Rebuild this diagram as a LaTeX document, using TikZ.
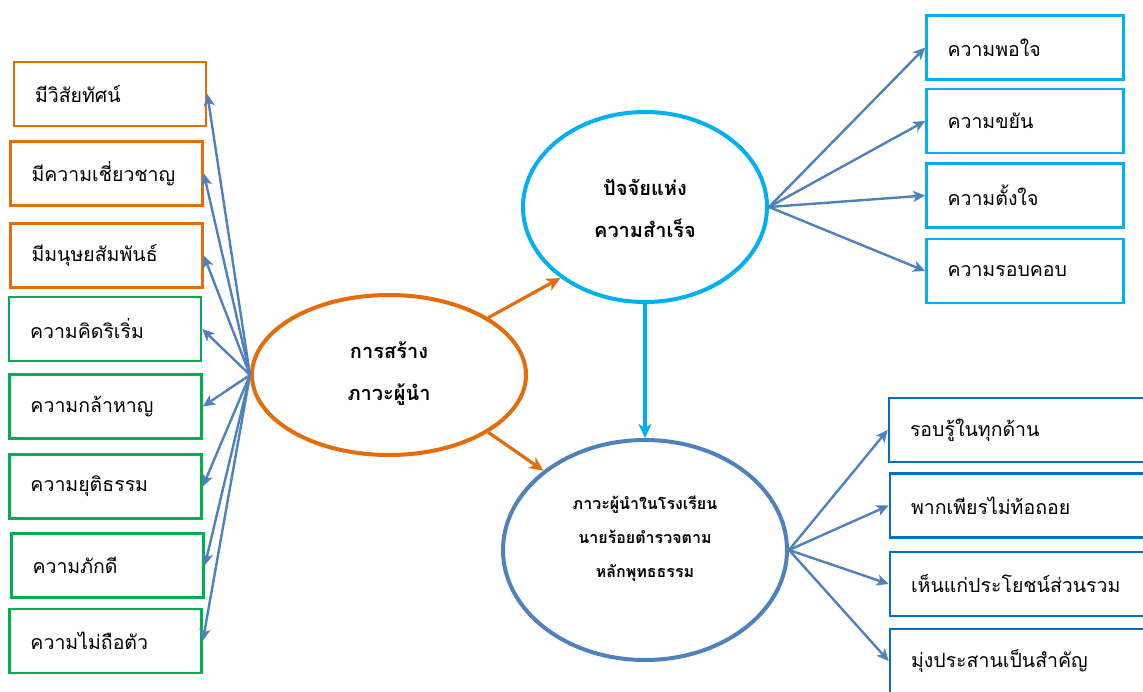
\documentclass[tikz,border=0pt]{standalone}
\usepackage{fontspec}
\setmainfont[Script=Thai]{Loma}
\usetikzlibrary{shapes.geometric,arrows.meta}
\definecolor{orng}{RGB}{228,108,10}
\definecolor{grn}{RGB}{0,176,80}
\definecolor{sky}{RGB}{0,176,240}
\definecolor{navy}{RGB}{0,112,192}
\definecolor{steel}{RGB}{79,129,189}
\tikzset{
  box/.style={draw, line width=2.6pt, rectangle, minimum height=64pt,
    inner xsep=21pt, inner ysep=0pt, align=left,
    font=\fontsize{19.5}{22}\selectfont},
  lbox/.style={box, text width=150pt},
  rbox/.style={box, text width=155pt},
  bbox/.style={box, text width=220pt},
  oval/.style={draw, ellipse, line width=4pt, inner sep=0pt},
  otext/.style={align=center, font=\fontsize{20}{42}\selectfont\bfseries},
  link/.style={draw=steel, line width=2.4pt, -{Stealth[length=12pt,width=11pt,inset=3pt]}},
  thick link/.style={line width=3.2pt, -{Stealth[length=14pt,width=13pt,inset=4pt]}}
}
\begin{document}
\begin{tikzpicture}[x=1pt,y=-1pt]
\useasboundingbox (0,0) rectangle (1143,691);
\clip (0,0) rectangle (1143,691);

% central ellipses
\node[oval, draw=orng, minimum width=274pt, minimum height=160pt] (lead) at (389,375) {};
\node[otext] (leadtext) at (389,374) {การสร้าง\\ภาวะผู้นำ};
\node[oval, draw=sky, minimum width=244pt, minimum height=190pt] (succ) at (645,207) {};
\node[otext] (succtext) at (645,208) {ปัจจัยแห่ง\\ความสำเร็จ};
\node[oval, draw=steel, minimum width=284pt, minimum height=220pt] (school) at (645,550) {};
\node[align=center, font=\fontsize{16}{34}\selectfont\bfseries] (schooltext) at (645,539)
  {ภาวะผู้นำในโรงเรียน\\นายร้อยตำรวจตาม\\หลักพุทธธรรม};

% left-hand qualities
\node[lbox, draw=orng] (l1) at (110,94) {มีวิสัยทัศน์};
\node[lbox, draw=orng] (l2) at (106.5,173.5) {มีความเชี่ยวชาญ};
\node[lbox, draw=orng] (l3) at (106.5,255.5) {มีมนุษยสัมพันธ์};
\node[lbox, draw=grn] (l4) at (105,329) {ความคิดริเริ่ม};
\node[lbox, draw=grn] (l5) at (105.5,406.5) {ความกล้าหาญ};
\node[lbox, draw=grn] (l6) at (105.5,486.5) {ความยุติธรรม};
\node[lbox, draw=grn] (l7) at (107.5,565.5) {ความภักดี};
\node[lbox, draw=grn] (l8) at (105.5,641) {ความไม่ถือตัว};

% success factors
\node[rbox, draw=sky] (r1) at (1025,47.5) {ความพอใจ};
\node[rbox, draw=sky] (r2) at (1025,121) {ความขยัน};
\node[rbox, draw=sky] (r3) at (1025,195.5) {ความตั้งใจ};
\node[rbox, draw=sky] (r4) at (1025,271) {ความรอบคอบ};

% leadership outcomes
\node[bbox, draw=navy] (b1) at (1020,430) {รอบรู้ในทุกด้าน};
\node[bbox, draw=navy] (b2) at (1021,505.5) {พากเพียรไม่ท้อถอย};
\node[bbox, draw=navy] (b3) at (1021,584) {เห็นแก่ประโยชน์ส่วนรวม};
\node[bbox, draw=navy] (b4) at (1021,661) {มุ่งประสานเป็นสำคัญ};

% connectors
\foreach \n in {l1,l2,l3,l4,l5,l6,l7,l8}
  \draw[link] (lead.west) -- (\n.east);
\foreach \n in {r1,r2,r3,r4}
  \draw[link] (succ.east) -- (\n.west);
\foreach \n in {b1,b2,b3,b4}
  \draw[link] (school.east) -- (\n.west);
\draw[thick link, draw=orng, fill=orng] (lead.30) -- (succ.220);
\draw[thick link, draw=orng, fill=orng] (lead.-30) -- (school.142);
\draw[thick link, draw=sky, fill=sky] (succ.south) -- (school.north);
\end{tikzpicture}
\end{document}
